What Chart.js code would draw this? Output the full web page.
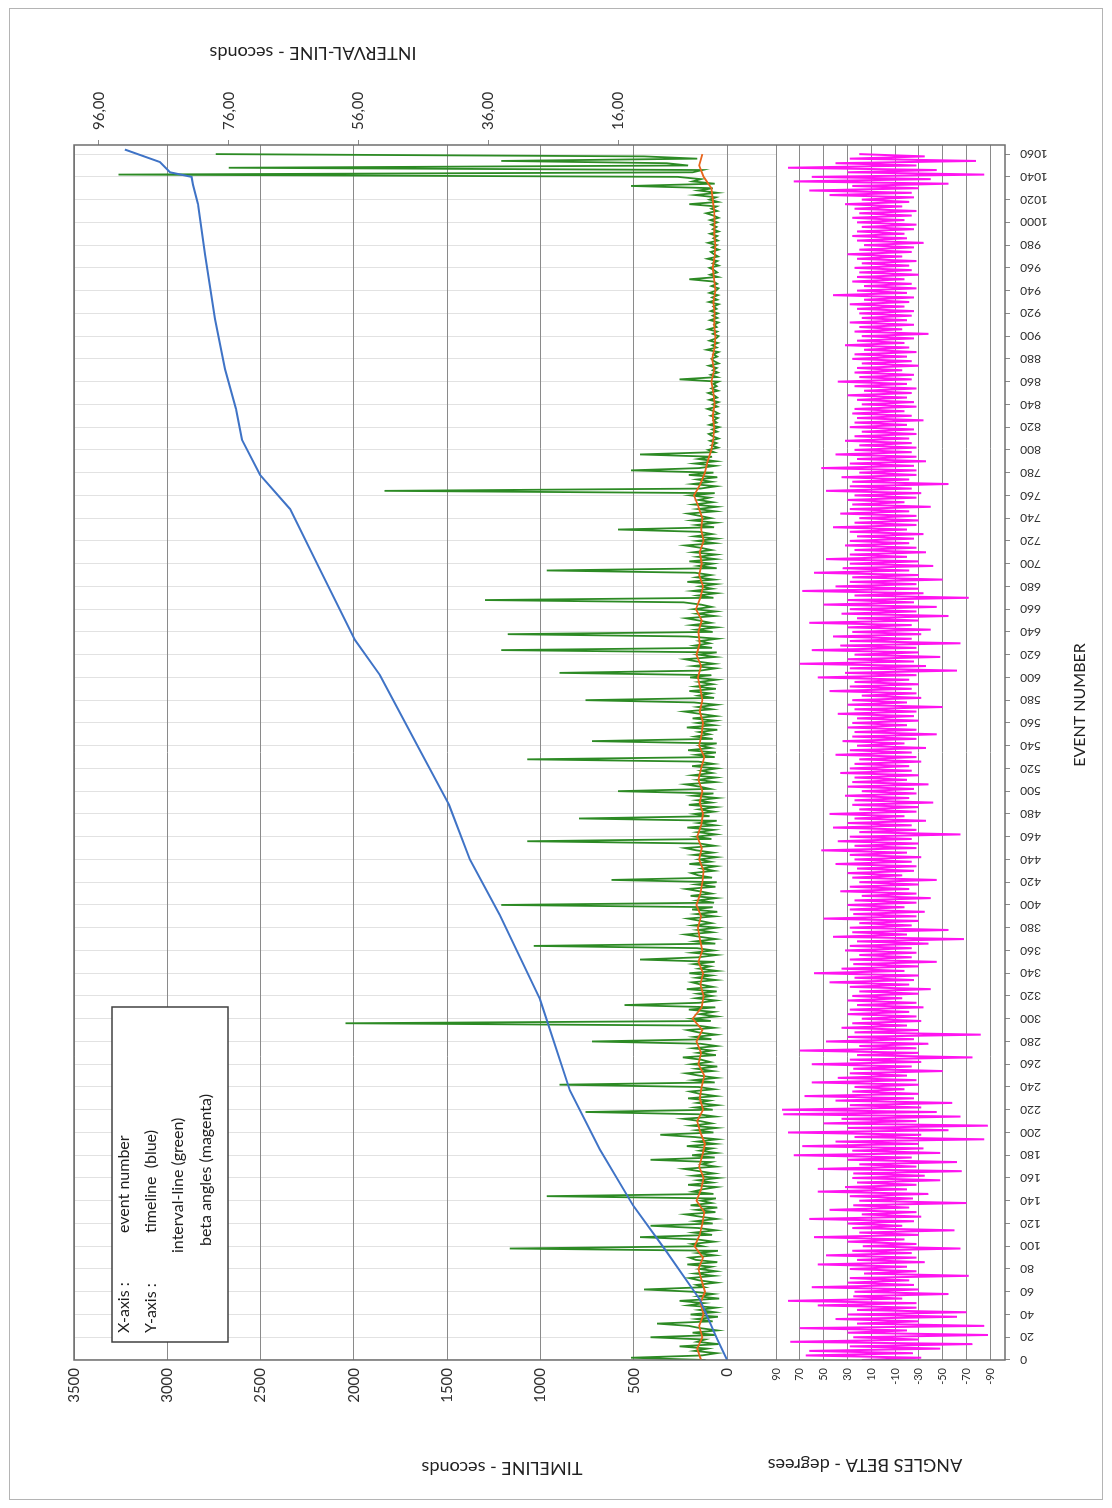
<!DOCTYPE html>
<html lang="es">
<head>
<meta charset="utf-8">
<title>Eventos: timeline, interval-line y ángulos beta</title>
<script src="https://cdn.jsdelivr.net/npm/chart.js@4.4.1/dist/chart.umd.min.js"></script>
<style>
    html, body { margin: 0; padding: 0; background: #fff; }
    body { width: 1112px; height: 1508px; position: relative; overflow: hidden; }
    #marco { position: absolute; left: 9px; top: 8px; width: 1094px; height: 1492px; border: 1px solid #b4b4b4; box-sizing: border-box; }
    /* el gráfico se dibuja apaisado y se gira 90° a la izquierda */
    #lienzo { position: absolute; left: 0; top: 0; width: 1508px; height: 1112px; transform-origin: 0 0; transform: translate(0, 1508px) rotate(-90deg); }
    #lienzo canvas { position: absolute; left: 0; top: 0; }
</style>
</head>
<body>
<div id="marco"></div>
<div id="lienzo">
    <canvas id="graficoPrincipal" width="1508" height="1112"></canvas>
    <canvas id="graficoAngulos" width="1508" height="1112"></canvas>
</div>
<script>
// Marcas de los ejes
const marcasEventos = [0, 20, 40, 60, 80, 100, 120, 140, 160, 180, 200, 220, 240, 260, 280, 300, 320, 340, 360, 380,
    400, 420, 440, 460, 480, 500, 520, 540, 560, 580, 600, 620, 640, 660, 680, 700, 720, 740, 760, 780,
    800, 820, 840, 860, 880, 900, 920, 940, 960, 980, 1000, 1020, 1040, 1060];
const marcasTiempo = [0, 500, 1000, 1500, 2000, 2500, 3000, 3500];
const marcasIntervalo = [16, 36, 56, 76, 96];
const marcasAngulo = [90, 70, 50, 30, 10, -10, -30, -50, -70, -90];

// Línea de tiempo acumulada (segundos) en algunos eventos
const eventosTiempo = [0, 18, 53, 97, 136, 185, 237, 317, 391, 440, 488, 536, 602, 633, 695, 748, 778, 809, 836, 871, 915, 972, 1016, 1033, 1040, 1044, 1053, 1064];
const lineaTiempo = [0, 52, 145, 332, 504, 681, 842, 1002, 1217, 1378, 1490, 1646, 1860, 1994, 2182, 2342, 2503, 2600, 2632, 2691, 2744, 2798, 2835, 2862, 2870, 2985, 3039, 3227];

// Intervalo entre eventos (segundos), un valor cada 2 eventos
const PASO_INTERVALO = 2;
const intervalos = [
    2.5, 14, 3.1, 0.8, 4.2, 2.2, 6.5, 0.5, 3.8, 2.6, 11, 1.0, 4.5, 0.7, 3.3, 5.1, 10, 1.4, 3.9, 0.6,
    4.8, 1.1, 3.5, 0.9, 5.2, 2.8, 6.5, 0.4, 3.6, 1.3, 4.4, 12, 2.7, 3.9, 0.8, 3.5, 5.0, 1.2, 4.1, 0.9,
    3.4, 1.6, 5.3, 0.7, 4.0, 5, 1.1, 3.7, 0.6, 32.7, 3.0, 4.6, 1.2, 3.8, 12.6, 1.5, 4.3, 0.9, 3.6, 11,
    1.4, 4.1, 0.8, 3.3, 5.6, 1.0, 3.9, 0.7, 4.8, 1.6, 3.2, 0.9, 27, 1.3, 4.5, 3.0, 0.8, 5.2, 1.5, 3.7,
    0.6, 4.4, 1.2, 3.5, 5.8, 0.9, 3.1, 1.7, 11, 1.1, 4.6, 0.8, 3.4, 1.5, 5.4, 1.0, 3.8, 0.7, 4.2, 9.5,
    1.3, 3.9, 0.8, 4.7, 1.6, 3.3, 5.9, 1.0, 3.6, 21, 1.4, 4.1, 0.7, 3.8, 1.9, 5.2, 0.9, 3.4, 4.9, 1.2,
    3.6, 25, 1.1, 4.3, 0.8, 3.5, 5.5, 1.4, 3.9, 0.7, 4.6, 1.8, 3.2, 6.0, 0.9, 3.7, 1.5, 4.4, 0.8, 3.3,
    20, 1.6, 4.2, 0.9, 3.6, 5.3, 1.2, 3.8, 58, 1.7, 4.5, 0.8, 3.4, 1.3, 5.1, 1.0, 15, 3.5, 0.9, 4.0,
    1.5, 3.7, 0.8, 5.4, 1.4, 3.2, 4.6, 0.9, 3.9, 1.6, 5.0, 0.7, 3.5, 1.8, 4.3, 1.1, 12.6, 3.6, 0.8, 4.5,
    1.3, 3.8, 29, 1.0, 4.1, 0.9, 3.4, 5.6, 1.5, 3.7, 0.8, 4.4, 1.6, 3.3, 5.2, 1.1, 3.9, 0.7, 4.6, 1.4,
    34, 1.2, 3.7, 0.9, 4.8, 1.6, 3.4, 5.5, 1.0, 3.9, 0.8, 17, 1.5, 3.6, 4.7, 1.2, 3.1, 0.9, 5.0, 1.7,
    3.5, 0.8, 4.3, 1.4, 3.9, 5.7, 1.1, 3.4, 30, 1.6, 4.0, 0.9, 3.7, 1.3, 5.3, 1.0, 3.6, 0.8, 22, 1.9,
    4.2, 1.2, 3.5, 0.9, 5.1, 1.6, 3.8, 0.7, 4.4, 1.3, 16, 1.8, 3.4, 5.6, 1.0, 3.7, 0.9, 4.5, 1.5, 3.2,
    0.8, 4.6, 1.3, 3.6, 30, 1.1, 3.9, 0.9, 5.2, 1.7, 3.3, 0.8, 20, 1.4, 4.1, 1.9, 3.5, 0.7, 5.4, 1.2,
    3.8, 1.0, 4.5, 0.9, 3.4, 5.8, 1.5, 3.7, 0.8, 4.3, 21, 1.2, 3.6, 1.8, 5.0, 0.9, 4.1, 1.4, 3.5, 0.8,
    4.9, 1.6, 25, 3.3, 0.9, 4.4, 1.2, 3.8, 5.7, 1.0, 3.6, 0.8, 34, 1.5, 4.2, 1.9, 3.4, 0.7, 5.2, 33,
    1.4, 3.9, 0.8, 4.6, 1.7, 3.5, 5.5, 1.1, 3.8, 0.9, 4.3, 1.6, 3.2, 5.9, 36.5, 1.3, 3.7, 0.8, 4.5, 1.5,
    3.4, 0.9, 5.3, 1.2, 3.9, 1.7, 4.1, 27, 0.8, 3.6, 1.4, 5.0, 1.0, 3.7, 0.9, 4.4, 1.6, 3.3, 5.6, 1.1,
    3.8, 0.8, 4.2, 1.5, 3.5, 16, 1.2, 3.9, 0.9, 4.6, 1.7, 3.4, 5.2, 1.0, 3.7, 0.8, 4.3, 1.4, 3.6, 1.9,
    4.8, 1.1, 52, 3.3, 0.9, 4.5, 1.6, 3.8, 0.7, 5.1, 1.3, 14, 3.5, 1.0, 4.2, 0.9, 3.6, 1.5, 12.6, 1.2,
    2.1, 0.6, 1.6, 0.8, 1.8, 0.5, 1.4, 2.0, 0.7, 1.5, 0.4, 1.9, 0.8, 1.3, 0.6, 1.7, 0.5, 1.2, 2.2, 0.7,
    1.4, 0.5, 1.9, 0.7, 1.2, 2.1, 0.6, 1.6, 0.8, 1.3, 0.5, 6.5, 0.7, 1.7, 0.6, 1.4, 0.8, 2.0, 0.5, 1.2,
    1.6, 0.7, 1.3, 0.5, 2.3, 0.8, 1.5, 0.6, 1.9, 0.9, 0.5, 1.4, 0.7, 2.1, 0.8, 1.2, 0.5, 1.8, 0.7, 1.4,
    0.6, 1.7, 0.8, 1.3, 0.5, 2.0, 0.7, 1.5, 0.6, 1.9, 0.9, 0.5, 1.6, 0.7, 1.3, 5, 0.6, 1.8, 0.7, 1.2,
    1.9, 0.5, 1.4, 0.7, 2.2, 0.6, 1.2, 1.7, 0.5, 1.5, 0.8, 2.1, 0.6, 1.3, 0.7, 1.8, 0.5, 1.4, 0.8, 1.6,
    0.7, 1.8, 0.5, 1.3, 2.4, 0.7, 1.6, 0.8, 5, 0.6, 1.9, 0.9, 4.1, 0.7, 3.6, 1.4, 14, 1.1, 4.5, 3.2,
    6.8, 93, 4.5, 3.0, 76, 5.2, 8.5, 34, 3.8, 12, 78
];

// Media del intervalo, un valor cada 10 eventos
const PASO_MEDIA = 10;
const mediaIntervalo = [
    3.2, 3.8, 3.0, 3.5, 2.8, 3.3, 2.6, 3.1, 3.6, 2.9,
    4.2, 3.4, 3.0, 2.7, 3.9, 3.2, 2.8, 3.5, 3.0, 2.6,
    3.3, 3.8, 2.9, 3.4, 3.1, 2.7, 3.6, 3.2, 3.9, 3.0,
    4.5, 3.1, 2.8, 3.3, 2.9, 3.6, 3.0, 3.4, 3.7, 3.2,
    3.9, 3.3, 3.0, 2.8, 3.5, 3.1, 3.8, 3.2, 2.9, 3.4,
    3.0, 3.6, 3.2, 2.7, 3.5, 3.1, 2.9, 3.4, 3.0, 3.3,
    3.7, 3.2, 3.9, 3.4, 3.6, 3.1, 4.0, 3.3, 2.9, 3.5,
    3.1, 3.4, 2.8, 3.2, 3.0, 3.6, 4.3, 3.3, 2.6, 2.2,
    1.6, 1.3, 1.2, 1.4, 1.1, 1.3, 1.6, 1.2, 1.5, 1.1,
    1.0, 1.2, 1.1, 1.3, 1.0, 1.2, 1.4, 1.1, 1.0, 1.2,
    1.1, 1.2, 1.4, 1.6, 2.8, 3.5, 3.0
];

// Ángulos beta (grados), un valor cada 2 eventos
const PASO_ANGULO = 2;
const angulosBeta = [
    18, -32, 65, -25, 62, -48, 28, -75, 78, -30, 25, -88, 30, -20, 70, -85, 22, -30, 40, -62,
    30, -70, 22, -28, 55, -28, 80, -16, 25, -55, 24, -30, 60, -26, 30, -22, 28, -72, 16, -28,
    28, -20, 55, -35, 22, -28, 48, -24, 26, -65, 17, -28, 30, -18, 58, -30, 20, -60, 26, -16,
    30, -26, 62, -32, 18, -28, 45, -22, 25, -70, 20, -25, 28, -38, 55, -20, 32, -28, 22, -48,
    26, -35, 25, -66, 55, -28, 20, -62, 30, -24, 75, -48, 26, -34, 68, -30, 40, -85, 24, -32,
    80, -55, 30, -88, 50, -28, 35, -65, 84, -45, 85, -32, 28, -58, 40, -26, 66, -30, 26, -18,
    24, -30, 60, -28, 38, -20, 28, -50, 25, -24, 60, -32, 28, -75, 22, -30, 70, -28, 20, -38,
    48, -26, 30, -82, 24, -30, 35, -20, 26, -32, 18, -28, 30, -22, 28, -34, 22, -28, 30, -16,
    26, -30, 20, -40, 28, -22, 45, -26, 24, -30, 58, -18, 35, -30, 25, -45, 28, -24, 20, -28,
    32, -24, 28, -38, 22, -68, 42, -20, 26, -55, 28, -24, 20, -30, 50, -28, 25, -35, 28, -18,
    30, -28, 24, -40, 18, -28, 36, -22, 28, -30, 20, -45, 26, -16, 30, -26, 22, -28, 40, -24,
    24, -32, 28, -20, 52, -28, 24, -30, 38, -24, 28, -65, 20, -28, 42, -24, 30, -36, 24, -18,
    45, -28, 20, -30, 26, -42, 24, -22, 32, -28, 18, -26, 30, -38, 26, -20, 24, -30, 36, -24,
    28, -22, 24, -32, 20, -28, 40, -24, 28, -36, 22, -18, 34, -28, 26, -45, 24, -28, 30, -20,
    26, -30, 22, -26, 38, -28, 24, -50, 30, -20, 26, -32, 18, -28, 45, -24, 28, -30, 24, -22,
    55, -28, 32, -62, 28, -36, 70, -26, 30, -48, 24, -30, 60, -28, 36, -65, 28, -24, 42, -32,
    26, -40, 30, -24, 62, -30, 22, -55, 35, -28, 28, -45, 50, -26, 30, -72, 24, -34, 68, -30,
    40, -28, 28, -50, 26, -30, 58, -22, 34, -42, 28, -30, 48, -20, 28, -36, 24, -28, 32, -22,
    28, -26, 22, -34, 28, -20, 42, -28, 24, -30, 20, -28, 36, -22, 28, -40, 26, -18, 30, -28,
    24, -32, 48, -24, 28, -55, 26, -22, 35, -28, 20, -28, 52, -26, 28, -36, 22, -28, 40, -24,
    24, -28, 20, -24, 32, -22, 24, -28, 18, -26, 28, -20, 24, -34, 22, -24, 26, -18, 24, -28,
    18, -26, 22, -20, 30, -24, 16, -28, 24, -20, 38, -24, 20, -26, 24, -16, 22, -30, 18, -24,
    26, -20, 24, -28, 16, -22, 32, -18, 22, -26, 18, -38, 24, -16, 20, -26, 28, -20, 18, -24,
    20, -26, 22, -18, 28, -22, 16, -26, 42, -20, 22, -28, 16, -24, 26, -18, 22, -30, 20, -24,
    24, -22, 18, -28, 22, -16, 30, -24, 20, -26, 16, -34, 22, -20, 26, -18, 22, -26, 18, -28,
    22, -18, 26, -24, 20, -28, 24, -16, 32, -22, 18, -26, 45, -24, 62, -30, 26, -55, 75, -40,
    60, -85, 30, -45, 80, -28, 40, -78, 28, -35, 20
];

// Colores y tipografía
const COLOR_TIEMPO = '#3f73c6';
const COLOR_INTERVALO = '#2c8a24';
const COLOR_MEDIA = '#e8651c';
const COLOR_ANGULO = '#ff14f0';
const COLOR_REJILLA = '#8a8a8a';
const COLOR_TEXTO = '#303030';
const FUENTE = 'Lato, "Open Sans", sans-serif';

// Convierte una serie con paso fijo en puntos {x, y}
function serieConPaso(valores, paso) {
    return valores.map((v, i) => ({ x: i * paso, y: v }));
}

function fijarMarcas(lista) {
    return escala => { escala.ticks = lista.map(v => ({ value: v })); };
}

function formatoComa(valor) {
    return valor.toFixed(2).replace('.', ',');
}

function formatoSimple(valor) {
    return String(valor);
}

// Marco, títulos de ejes y cuadro de leyenda
const decoracion = {
    id: 'decoracion',
    afterDraw(chart) {
        const ctx = chart.ctx;
        const area = chart.chartArea;
        ctx.save();

        // marco común a los dos paneles
        ctx.strokeStyle = '#6e6e6e';
        ctx.lineWidth = 1.5;
        ctx.strokeRect(area.left, 74, area.right - area.left, area.bottom - 74);

        ctx.fillStyle = '#222';
        ctx.textAlign = 'center';
        ctx.textBaseline = 'middle';
        ctx.font = '18px ' + FUENTE;

        const titulosGirados = [
            ['TIMELINE - seconds', 40, 502],
            ['ANGLES BETA - degrees', 43, 865],
            ['INTERVAL-LINE - seconds', 1455, 313]
        ];
        titulosGirados.forEach(([texto, x, y]) => {
            ctx.save();
            ctx.translate(x, y);
            ctx.rotate(-Math.PI / 2);
            ctx.fillText(texto, 0, 0);
            ctx.restore();
        });

        ctx.font = '16px ' + FUENTE;
        ctx.fillText('EVENT NUMBER', 803, 1080);

        // cuadro de texto con la explicación de los ejes
        ctx.fillStyle = '#fff';
        ctx.fillRect(166, 112, 335, 116);
        ctx.strokeStyle = '#404040';
        ctx.lineWidth = 1.5;
        ctx.strokeRect(166, 112, 335, 116);

        ctx.fillStyle = '#1e1e1e';
        ctx.textAlign = 'left';
        ctx.font = '16px ' + FUENTE;
        ctx.fillText('X-axis :', 175, 124);
        ctx.fillText('event number', 275, 124);
        ctx.fillText('Y-axis :', 175, 151);
        ctx.fillText('timeline  (blue)', 275, 151);
        ctx.fillText('interval-line (green)', 255, 178);
        ctx.fillText('beta angles (magenta)', 262, 206);

        ctx.restore();
    }
};

// Panel superior: timeline e interval-line
const graficoPrincipal = new Chart(document.getElementById('graficoPrincipal'), {
    type: 'line',
    data: {
        datasets: [
            {
                label: 'timeline',
                data: eventosTiempo.map((e, i) => ({ x: e, y: lineaTiempo[i] })),
                borderColor: COLOR_TIEMPO,
                borderWidth: 2,
                pointRadius: 0,
                yAxisID: 'yTiempo',
                order: 0
            },
            {
                label: 'media',
                data: serieConPaso(mediaIntervalo, PASO_MEDIA),
                borderColor: COLOR_MEDIA,
                borderWidth: 1.8,
                pointRadius: 0,
                yAxisID: 'yIntervalo',
                order: 1
            },
            {
                label: 'interval-line',
                data: serieConPaso(intervalos, PASO_INTERVALO),
                borderColor: COLOR_INTERVALO,
                borderWidth: 1.8,
                pointRadius: 0,
                yAxisID: 'yIntervalo',
                order: 2
            }
        ]
    },
    options: {
        responsive: false,
        animation: false,
        layout: { padding: { top: 74, left: 0, right: 0, bottom: 0 } },
        plugins: { legend: { display: false }, tooltip: { enabled: false } },
        scales: {
            x: {
                type: 'linear',
                min: 0,
                max: 1068,
                afterBuildTicks: fijarMarcas(marcasEventos),
                ticks: { display: false },
                grid: { color: '#e2e2e2', drawTicks: false },
                border: { display: false },
                afterFit: escala => { escala.height = 336; }
            },
            yTiempo: {
                position: 'left',
                min: -262.6,
                max: 3500,
                afterBuildTicks: fijarMarcas(marcasTiempo),
                ticks: { color: COLOR_TEXTO, font: { family: FUENTE, size: 15 }, padding: 8, callback: formatoSimple },
                grid: { color: COLOR_REJILLA, drawTicks: false },
                border: { display: false },
                afterFit: escala => { escala.width = 148; }
            },
            yIntervalo: {
                position: 'right',
                min: -8.35,
                max: 99.85,
                afterBuildTicks: fijarMarcas(marcasIntervalo),
                ticks: { color: COLOR_TEXTO, font: { family: FUENTE, size: 15 }, padding: 10, callback: formatoComa },
                grid: { drawOnChartArea: false, tickLength: 5, color: COLOR_REJILLA },
                border: { display: false },
                afterFit: escala => { escala.width = 145; }
            }
        }
    }
});

// Panel inferior: ángulos beta
const graficoAngulos = new Chart(document.getElementById('graficoAngulos'), {
    type: 'line',
    data: {
        datasets: [{
            label: 'beta angles',
            data: serieConPaso(angulosBeta, PASO_ANGULO),
            borderColor: COLOR_ANGULO,
            borderWidth: 2,
            pointRadius: 0
        }]
    },
    options: {
        responsive: false,
        animation: false,
        layout: { padding: { top: 776, left: 0, right: 145, bottom: 0 } },
        plugins: { legend: { display: false }, tooltip: { enabled: false } },
        scales: {
            x: {
                type: 'linear',
                min: 0,
                max: 1068,
                afterBuildTicks: fijarMarcas(marcasEventos),
                ticks: { color: COLOR_TEXTO, font: { family: FUENTE, size: 12 }, minRotation: 90, maxRotation: 90, padding: 10, callback: formatoSimple },
                grid: { drawOnChartArea: false, tickLength: 5, color: COLOR_REJILLA },
                border: { display: false },
                afterFit: escala => { escala.height = 107; }
            },
            y: {
                min: -102.4,
                max: 90,
                afterBuildTicks: fijarMarcas(marcasAngulo),
                ticks: { color: COLOR_TEXTO, font: { family: FUENTE, size: 11 }, padding: 8, callback: formatoSimple },
                grid: { color: COLOR_REJILLA, drawTicks: false },
                border: { display: false },
                afterFit: escala => { escala.width = 148; }
            }
        }
    },
    plugins: [decoracion]
});
</script>
</body>
</html>
